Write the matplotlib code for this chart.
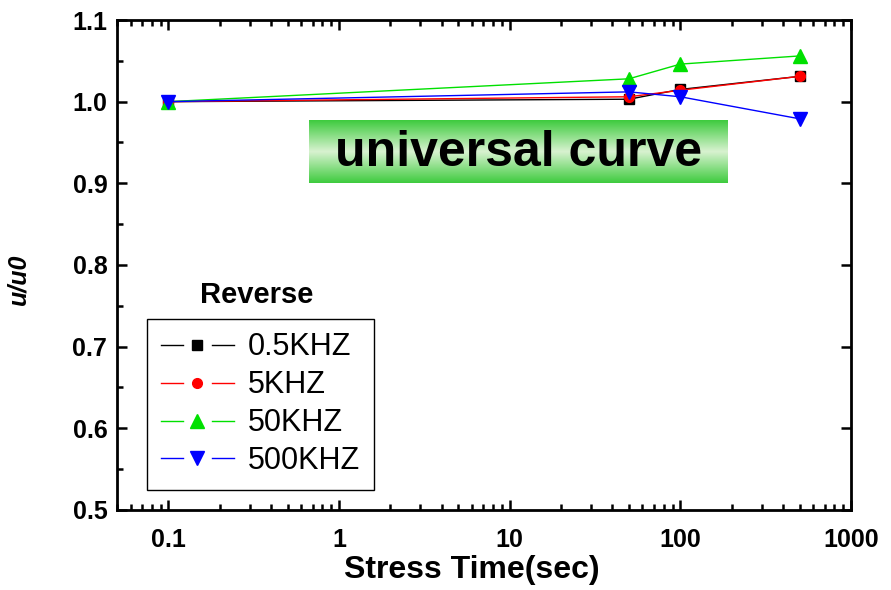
import numpy as np
import matplotlib
matplotlib.use("Agg")
import matplotlib.pyplot as plt
from matplotlib.lines import Line2D
from matplotlib.legend_handler import HandlerBase
from matplotlib.colors import LinearSegmentedColormap

plt.rcParams['font.family'] = ['Liberation Sans', 'DejaVu Sans']

# data
stress_time = [0.1, 50, 100, 500]
u_05k = [1.000, 1.003, 1.015, 1.031]
u_5k = [1.000, 1.006, 1.014, 1.031]
u_50k = [1.000, 1.028, 1.046, 1.056]
u_500k = [1.000, 1.012, 1.006, 0.979]

series = [
    ('0.5KHZ', u_05k, 'black', 's', 7),
    ('5KHZ', u_5k, 'red', 'o', 7),
    ('50KHZ', u_50k, '#00E000', '^', 10),
    ('500KHZ', u_500k, 'blue', 'v', 10),
]

x_ticks = [0.1, 1, 10, 100, 1000]
x_ticklabels = ['0.1', '1', '10', '100', '1000']
y_ticks = [0.5, 0.6, 0.7, 0.8, 0.9, 1.0, 1.1]


# legend handle: line - marker - line with gaps (Origin style)
class GapHandler(HandlerBase):
    def create_artists(self, legend, orig_handle, xdescent, ydescent,
                       width, height, fontsize, trans):
        y = height / 2 - ydescent
        x0 = -xdescent
        c = orig_handle.get_color()
        l1 = Line2D([x0, x0 + 0.3 * width], [y, y], color=c, lw=1)
        l2 = Line2D([x0 + 0.7 * width, x0 + width], [y, y], color=c, lw=1)
        m = Line2D([x0 + width / 2], [y], marker=orig_handle.get_marker(),
                   color=c, ms=orig_handle.get_markersize(), ls='none')
        for a in (l1, l2, m):
            a.set_transform(trans)
        return [l1, l2, m]


fig = plt.figure(figsize=(8.91, 5.90), dpi=100)
ax = fig.add_axes([0.1313, 0.1356, 0.8238, 0.8305])

handles = []
for label, vals, color, marker, ms in series:
    h, = ax.plot(stress_time, vals, color=color, lw=1, marker=marker,
                 ms=ms, label=label)
    handles.append(h)

ax.set_xscale('log')
ax.set_xlim(0.05, 1000)
ax.set_ylim(0.5, 1.1)
ax.set_xticks(x_ticks)
ax.set_xticklabels(x_ticklabels)
ax.set_yticks(y_ticks)
ax.set_yticklabels(['%.1f' % v for v in y_ticks])
ax.set_yticks(np.arange(0.55, 1.1, 0.1), minor=True)

for s in ax.spines.values():
    s.set_linewidth(2)
ax.tick_params(which='both', direction='in', top=True, right=True, width=1.8)
ax.tick_params(which='major', length=7, labelsize=18)
ax.tick_params(axis='x', which='major', pad=13)
ax.tick_params(axis='y', which='major', pad=7)
ax.tick_params(which='minor', length=4)
ax.tick_params(axis='y', which='minor', right=False)
for lab in ax.get_xticklabels() + ax.get_yticklabels():
    lab.set_fontweight('bold')

ax.set_xlabel('Stress Time(sec)', fontsize=23, fontweight='bold')
ax.xaxis.set_label_coords(0.484, -0.092)
ax.set_ylabel('u/u0', fontsize=18, fontweight='bold', style='italic')
ax.yaxis.set_label_coords(-0.118, 0.47)

leg = ax.legend(handles=handles, loc='lower left',
                bbox_to_anchor=(0.041, 0.041), borderaxespad=0,
                fontsize=22, handler_map={Line2D: GapHandler()},
                handlelength=2.4, handletextpad=0.45, labelspacing=0.26,
                fancybox=False, edgecolor='black', framealpha=1,
                borderpad=0.45)
leg.get_frame().set_linewidth(1)
ax.text(0.190, 0.439, 'Reverse', transform=ax.transAxes, fontsize=21,
        fontweight='bold', ha='center', va='center')

# green gradient box with "universal curve"
bax = fig.add_axes([309 / 891, 1 - 183 / 590, 419 / 891, 63 / 590])
cmap = LinearSegmentedColormap.from_list(
    'g', ['#3ECB3E', '#D8F2D0', '#3ECB3E'])
grad = np.linspace(0, 1, 256).reshape(-1, 1)
bax.imshow(grad, cmap=cmap, aspect='auto', extent=[0, 1, 0, 1])
bax.set_axis_off()
bax.text(0.5, 0.47, 'universal curve', transform=bax.transAxes,
         fontsize=36, fontweight='bold', ha='center', va='center',
         color='black')

fig.savefig('out.png', dpi=100)
